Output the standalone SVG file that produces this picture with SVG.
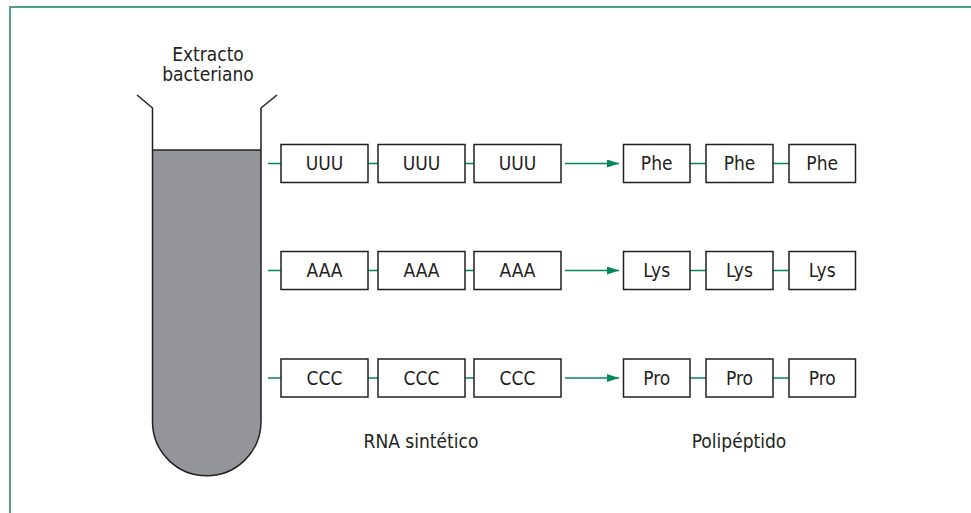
<svg xmlns="http://www.w3.org/2000/svg" width="971" height="513" viewBox="0 0 971 513">
<style>
.t{font-family:"Liberation Sans Narrow","DejaVu Sans Condensed","Liberation Sans",sans-serif;font-size:19px;fill:#231f20;text-anchor:middle}
.b{fill:#fff;stroke:#231f20;stroke-width:1.5}
.c{stroke:#00885a;stroke-width:1.5;fill:none}
</style>
<defs>
<marker id="ah" markerWidth="12" markerHeight="8" refX="12" refY="4" orient="auto" markerUnits="userSpaceOnUse">
<path d="M0,0 L12,4 L0,8 Z" fill="#00885a"/>
</marker>
</defs>
<rect width="971" height="513" fill="#fff"/>
<path d="M10,520 V7 H980" fill="none" stroke="#4fa383" stroke-width="2"/>
<g id="tube">
<path d="M152.5,150 V421.5 A54.25,54.25 0 0 0 261,421.5 V150 Z" fill="#939598"/>
<path d="M137,95 L152.5,108 V421.5 A54.25,54.25 0 0 0 261,421.5 V108 L277,95" fill="none" stroke="#231f20" stroke-width="1.5"/>
<line x1="152.5" y1="150" x2="261" y2="150" stroke="#231f20" stroke-width="1.5"/>
<text class="t" x="208" y="61">Extracto</text>
<text class="t" x="208" y="81">bacteriano</text>
</g>
<g id="connectors">
<path class="c" d="M268,163.5 H281 M368,163.5 H378 M465,163.5 H474 M690,163.5 H706 M773,163.5 H789"/>
<path class="c" d="M268,270.5 H281 M368,270.5 H378 M465,270.5 H474 M690,270.5 H706 M773,270.5 H789"/>
<path class="c" d="M268,378 H281 M368,378 H378 M465,378 H474 M690,378 H706 M773,378 H789"/>
<line class="c" x1="565" y1="163.5" x2="619" y2="163.5" marker-end="url(#ah)"/>
<line class="c" x1="565" y1="270.5" x2="619" y2="270.5" marker-end="url(#ah)"/>
<line class="c" x1="565" y1="378" x2="619" y2="378" marker-end="url(#ah)"/>
</g>
<g id="row1">
<g id="u1"><rect class="b" x="281" y="144.5" width="87" height="38"/><text class="t" x="324.5" y="170">UUU</text></g>
<g id="u2"><rect class="b" x="378" y="144.5" width="87" height="38"/><text class="t" x="421.5" y="170">UUU</text></g>
<g id="u3"><rect class="b" x="474" y="144.5" width="87" height="38"/><text class="t" x="517.5" y="170">UUU</text></g>
<g id="phe1"><rect class="b" x="623.5" y="144.5" width="66.5" height="38"/><text class="t" x="656.7" y="170">Phe</text></g>
<g id="phe2"><rect class="b" x="706" y="144.5" width="67" height="38"/><text class="t" x="739.5" y="170">Phe</text></g>
<g id="phe3"><rect class="b" x="789" y="144.5" width="66.5" height="38"/><text class="t" x="822.2" y="170">Phe</text></g>
</g>
<g id="row2">
<g id="a1"><rect class="b" x="281" y="251.5" width="87" height="38"/><text class="t" x="324.5" y="277">AAA</text></g>
<g id="a2"><rect class="b" x="378" y="251.5" width="87" height="38"/><text class="t" x="421.5" y="277">AAA</text></g>
<g id="a3"><rect class="b" x="474" y="251.5" width="87" height="38"/><text class="t" x="517.5" y="277">AAA</text></g>
<g id="lys1"><rect class="b" x="623.5" y="251.5" width="66.5" height="38"/><text class="t" x="656.7" y="277">Lys</text></g>
<g id="lys2"><rect class="b" x="706" y="251.5" width="67" height="38"/><text class="t" x="739.5" y="277">Lys</text></g>
<g id="lys3"><rect class="b" x="789" y="251.5" width="66.5" height="38"/><text class="t" x="822.2" y="277">Lys</text></g>
</g>
<g id="row3">
<g id="c1"><rect class="b" x="281" y="359" width="87" height="38"/><text class="t" x="324.5" y="384.5">CCC</text></g>
<g id="c2"><rect class="b" x="378" y="359" width="87" height="38"/><text class="t" x="421.5" y="384.5">CCC</text></g>
<g id="c3"><rect class="b" x="474" y="359" width="87" height="38"/><text class="t" x="517.5" y="384.5">CCC</text></g>
<g id="pro1"><rect class="b" x="623.5" y="359" width="66.5" height="38"/><text class="t" x="656.7" y="384.5">Pro</text></g>
<g id="pro2"><rect class="b" x="706" y="359" width="67" height="38"/><text class="t" x="739.5" y="384.5">Pro</text></g>
<g id="pro3"><rect class="b" x="789" y="359" width="66.5" height="38"/><text class="t" x="822.2" y="384.5">Pro</text></g>
</g>
<g id="labels">
<text class="t" x="421" y="447.5">RNA sintético</text>
<text class="t" x="739" y="447.5">Polipéptido</text>
</g>
</svg>
